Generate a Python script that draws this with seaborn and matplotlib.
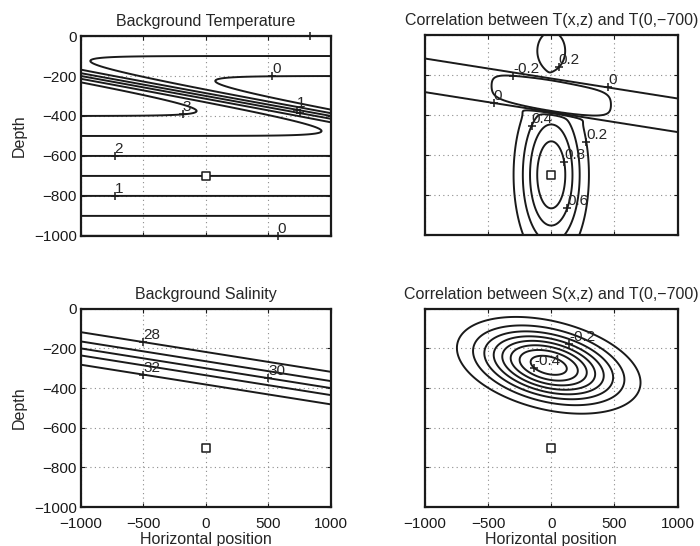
import numpy as np
import matplotlib
matplotlib.use("Agg")
import matplotlib.pyplot as plt
import seaborn as sns

# axes
x_ticks = [-1000, -500, 0, 500, 1000]
depth_ticks = [-1000, -800, -600, -400, -200, 0]
ref_point = [0, -700]

# background temperature: linear profile with a tilted front (colder above)
front_z0 = -300
front_slope = -0.1
front_width = 48
temp_step = 4
temp_scale = 200
temp_levels = [0, 0.5, 1, 1.5, 2, 2.5, 3]
temp_lab_level = [0, 3, 1, 1.5, 2, 1, 0, 1]
temp_lab_text = ['0', '3', '1', '', '2', '1', '0', '']
temp_lab_x = [528, -184, 730, 750, -728, -728, 576, 832]
temp_lab_z = [-205, -395, -372, -400, -598, -798, -1000, 0]

# correlation T(x,z) with T(0,-700)
band_z0 = -302
band_half = 84
band_sharp = 10
band_blend = 30
main_sx, main_sz = 235, 355
band_amp, band_sx = 0.36, 620
up_amp, up_x, up_z, up_sx, up_sz = 0.3, 0, -80, 173, 150
tcorr_levels = [-0.2, 0, 0.2, 0.4, 0.6, 0.8]
tcorr_lab_level = [0.2, -0.2, 0, 0, 0.4, 0.2, 0.8, 0.6]
tcorr_lab_text = ['0.2', '-0.2', '0', '0', '0.4', '0.2', '0.8', '0.6']
tcorr_lab_x = [91, -304, 447, -455, -154, 296, 91, 115]
tcorr_lab_z = [-175, -217, -267, -345, -455, -535, -635, -865]

# background salinity
sal_mid = 30
sal_amp = 3
sal_z0 = -300
sal_scale = 102
sal_levels = [28, 29, 30, 31, 32]
sal_lab_level = [28, 32, 30]
sal_lab_text = ['28', '32', '30']
sal_lab_x = [-500, -500, 500]
sal_lab_z = [-165, -330, -350]

# correlation S(x,z) with T(0,-700)
scorr_amp = -0.435
scorr_x0, scorr_z0 = -20, -285
scorr_sx, scorr_sz, scorr_tilt = 494, 155, 0.12
scorr_levels = [-0.4, -0.35, -0.3, -0.25, -0.2, -0.15, -0.1, -0.05]
scorr_lab_level = [-0.4, -0.2]
scorr_lab_text = ['-0.4', '-0.2']
scorr_lab_x = [-122, 154]
scorr_lab_z = [-293, -162]

sns.set_theme(style="white")
plt.rcParams['font.family'] = ['Liberation Sans', 'DejaVu Sans']
plt.rcParams['axes.unicode_minus'] = True
plt.rcParams['contour.negative_linestyle'] = 'solid'

xs = np.linspace(-1000, 1000, 401)
zs = np.linspace(-1008, 8, 255)
X, Z = np.meshgrid(xs, zs)

# temperature
zf = front_z0 + front_slope * X
T = (Z + 1000) / temp_scale - temp_step * 0.5 * (1 + np.tanh((Z - zf) / front_width))

# T correlation
s = Z - (band_z0 + front_slope * X)
Q = np.tanh((np.sqrt(s ** 2 + 1) - band_half) / band_sharp)
w_below = 0.5 * (1 - np.tanh((s + band_half) / band_blend))
w_above = 0.5 * (1 + np.tanh((s - band_half) / band_blend))
w_band = 1 - w_below - w_above
g_main = np.exp(-((X - ref_point[0]) / main_sx) ** 2 - ((Z - ref_point[1]) / main_sz) ** 2)
g_band = band_amp * np.exp(-(X / band_sx) ** 2)
g_up = up_amp * np.exp(-((X - up_x) / up_sx) ** 2 - ((Z - up_z) / up_sz) ** 2)
E = w_below * g_main + w_band * g_band + w_above * g_up + 1e-9
TC = Q * E

# salinity
eta = Z - front_slope * X
S = sal_mid - sal_amp * np.tanh((eta - sal_z0) / sal_scale)

# S correlation
u = (X - scorr_x0) / scorr_sx
v = ((Z - scorr_z0) + scorr_tilt * (X - scorr_x0)) / scorr_sz
SC = scorr_amp * np.exp(-u ** 2 - v ** 2)


def snap(cs, lev, lx, lz):
    idx = int(np.argmin(np.abs(np.asarray(cs.levels) - lev)))
    best = (lx, lz)
    bd = 0.06
    for seg in cs.allsegs[idx]:
        if len(seg) == 0:
            continue
        d = np.hypot((seg[:, 0] - lx) / 2000, (seg[:, 1] - lz) / 1000)
        i = np.argmin(d)
        if d[i] < bd:
            bd = d[i]
            best = (seg[i, 0], seg[i, 1])
    return best


def panel(ax, field, levels, lab_lev, lab_txt, lab_x, lab_z, title, show_x, show_y):
    cs = ax.contour(X, Z, field, levels=levels, colors='k', linewidths=1.4,
                    linestyles='solid', zorder=3)
    for lev, txt, lx, lz in zip(lab_lev, lab_txt, lab_x, lab_z):
        px, pz = snap(cs, lev, lx, lz)
        ax.plot(px, pz, '+', color='k', ms=6, mew=1.1, zorder=4, clip_on=False)
        if txt:
            ax.annotate(txt, (px, pz), xytext=(0, 0), textcoords='offset points',
                        ha='left', va='bottom', fontsize=11, zorder=4,
                        annotation_clip=True, clip_on=True)
    sns.scatterplot(x=[ref_point[0]], y=[ref_point[1]], marker='s', s=28, color='white',
                    edgecolor='k', linewidth=1.1, ax=ax, zorder=5, legend=False)
    ax.set_xlim(-1000, 1000)
    ax.set_ylim(-1000, 0)
    ax.set_xticks(x_ticks)
    ax.set_yticks(depth_ticks)
    ax.grid(True, linestyle=(0, (1, 3)), color='0.55', linewidth=0.8)
    ax.set_axisbelow(True)
    for sp in ax.spines.values():
        sp.set_color('k')
        sp.set_linewidth(1.6)
    ax.tick_params(direction='in', length=3, width=0.8, top=True, right=True,
                   bottom=True, left=True, labelsize=11, colors='k', pad=3)
    ax.tick_params(axis='x', pad=7)
    ax.set_title(title, fontsize=11.5, pad=7)
    if show_x:
        ax.set_xlabel('Horizontal position', fontsize=11.5, labelpad=1)
    else:
        ax.set_xticklabels([])
    if show_y:
        ax.set_ylabel('Depth', fontsize=11.5, labelpad=5)
    else:
        ax.set_yticklabels([])


fig = plt.figure(figsize=(7, 5.46), dpi=100)
ax1 = fig.add_axes([0.1157, 0.568, 0.357, 0.366])
ax2 = fig.add_axes([0.607, 0.570, 0.361, 0.366])
ax3 = fig.add_axes([0.1157, 0.0714, 0.357, 0.363])
ax4 = fig.add_axes([0.607, 0.0714, 0.361, 0.363])

panel(ax1, T, temp_levels, temp_lab_level, temp_lab_text, temp_lab_x, temp_lab_z,
      'Background Temperature', False, True)
panel(ax2, TC, tcorr_levels, tcorr_lab_level, tcorr_lab_text, tcorr_lab_x, tcorr_lab_z,
      'Correlation between T(x,z) and T(0,\u2212700)', False, False)
panel(ax3, S, sal_levels, sal_lab_level, sal_lab_text, sal_lab_x, sal_lab_z,
      'Background Salinity', True, True)
panel(ax4, SC, scorr_levels, scorr_lab_level, scorr_lab_text, scorr_lab_x, scorr_lab_z,
      'Correlation between S(x,z) and T(0,\u2212700)', True, False)

fig.savefig('out.png', dpi=100)
